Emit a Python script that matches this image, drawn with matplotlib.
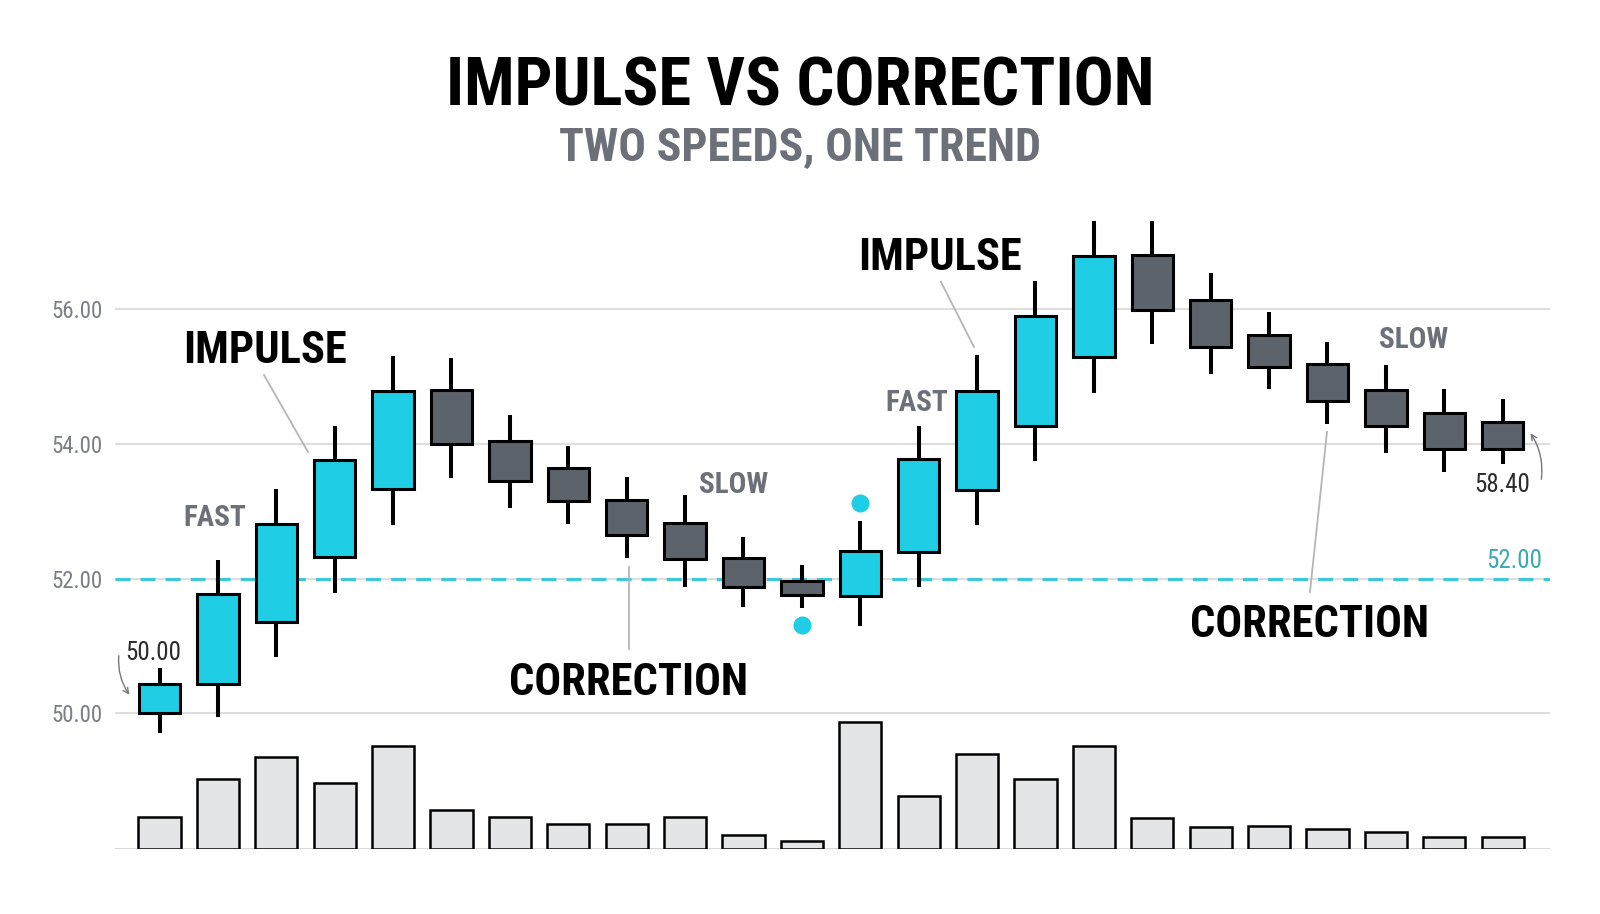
import matplotlib
matplotlib.use("Agg")
import matplotlib.pyplot as plt

# candle values
opens = [50.00, 50.44, 51.36, 52.32, 53.33, 54.80, 54.04, 53.64, 53.17, 52.82, 52.30, 51.97,
         51.74, 52.39, 53.31, 54.27, 55.29, 56.80, 56.13, 55.62, 55.18, 54.80, 54.46, 54.32]
closes = [50.44, 51.77, 52.81, 53.76, 54.79, 54.00, 53.45, 53.15, 52.65, 52.29, 51.88, 51.75,
          52.41, 53.77, 54.79, 55.89, 56.79, 55.99, 55.44, 55.14, 54.63, 54.27, 53.93, 53.93]
highs = [50.68, 52.28, 53.33, 54.27, 55.30, 55.28, 54.43, 53.96, 53.50, 53.24, 52.61, 52.20,
         52.85, 54.27, 55.32, 56.41, 57.31, 57.30, 56.53, 55.96, 55.51, 55.17, 54.82, 54.67]
lows = [49.71, 49.94, 50.83, 51.79, 52.80, 53.49, 53.05, 52.81, 52.31, 51.87, 51.58, 51.57,
        51.30, 51.88, 52.79, 53.74, 54.76, 55.48, 55.03, 54.81, 54.30, 53.87, 53.58, 53.70]
volumes = [32, 70, 92, 66, 103, 39, 32, 25, 25, 32, 14, 8,
           127, 53, 95, 70, 103, 31, 22, 23, 20, 17, 12, 12]

yticks = [50, 52, 54, 56]
ytick_labels = ["50.00", "52.00", "54.00", "56.00"]
level = 52.0
dot_x = [12, 11]
dot_y = [53.12, 51.31]

CYAN = "#1fcde4"
DARK = "#5d636b"
GREY_TXT = "#6b7079"
FONT = ["Roboto Condensed", "Roboto", "DejaVu Sans"]

fig = plt.figure(figsize=(16, 9.14), dpi=100)
fig.patch.set_facecolor("white")

xlim = (-0.762, 23.81)
ax = fig.add_axes([0.071875, 0.1849, 0.896875, 0.6291])
ax.set_xlim(*xlim)
ax.set_ylim(49.531, 58.062)
ax.patch.set_alpha(0)
for s in ax.spines.values():
    s.set_visible(False)
ax.set_xticks([])
ax.set_yticks(yticks)
ax.set_yticklabels(ytick_labels, fontsize=16.5, color="#7a7f86", family=FONT)
ax.tick_params(axis="y", length=0, pad=9)

for y in yticks:
    ax.axhline(y, color="#dedede", lw=1.5, zorder=0)
ax.axhline(level, color="#3cc8d8", lw=2.2, dashes=(4.9, 3.3), zorder=1)

x = list(range(len(opens)))
colors = [CYAN if c >= o else DARK for o, c in zip(opens, closes)]
bottoms = [min(o, c) for o, c in zip(opens, closes)]
heights = [abs(c - o) for o, c in zip(opens, closes)]
ax.vlines(x, lows, highs, color="black", lw=2.9, zorder=2)
ax.bar(x, heights, bottom=bottoms, width=0.71, color=colors, edgecolor="black",
       linewidth=2.2, zorder=3)
ax.plot(dot_x, dot_y, "o", color=CYAN, ms=13, mec="none", zorder=4)

big = dict(family=FONT, weight="bold", fontsize=32, color="black", ha="center", va="baseline")
small = dict(family=FONT, weight="bold", fontsize=21, color=GREY_TXT, ha="center", va="baseline")
lead = dict(color="#b5b5b5", lw=1.3, zorder=1)

ax.text(1.807, 55.199, "IMPULSE", **big)
ax.plot([1.789, 2.543], [55.021, 53.878], **lead)
ax.text(0.950, 52.780, "FAST", **small)

ax.text(8.039, 50.273, "CORRECTION", **big)
ax.plot([8.039, 8.039], [52.172, 50.955], **lead)
ax.text(9.837, 53.270, "SLOW", **small)

ax.text(13.365, 56.579, "IMPULSE", **big)
ax.plot([13.382, 13.947], [56.401, 55.436], **lead)
ax.text(12.971, 54.487, "FAST", **small)

ax.text(19.700, 51.134, "CORRECTION", **big)
ax.plot([19.991, 19.700], [54.175, 51.801], **lead)
ax.text(21.473, 55.421, "SLOW", **small)

ax.text(-0.103, 50.792, "50.00", family=FONT, fontsize=18, color="#2b2b2b",
        ha="center", va="baseline")
ax.annotate("", xy=(-0.488, 50.243), xytext=(-0.693, 50.896),
            arrowprops=dict(arrowstyle="->", color="#777777", lw=1.0,
                            connectionstyle="arc3,rad=0.2"))
ax.text(22.997, 53.285, "58.40", family=FONT, fontsize=18, color="#2b2b2b",
        ha="center", va="baseline")
ax.annotate("", xy=(23.45, 54.19), xytext=(23.656, 53.433),
            arrowprops=dict(arrowstyle="->", color="#777777", lw=1.0,
                            connectionstyle="arc3,rad=0.2"))
ax.text(23.673, 52.157, "52.00", family=FONT, fontsize=18, color="#3aa9b4",
        ha="right", va="baseline")

# volume panel
vax = fig.add_axes([0.071875, 0.07112, 0.896875, 0.16302])
vax.set_xlim(*xlim)
vax.set_ylim(0, 149)
vax.patch.set_alpha(0)
vax.axis("off")
vax.bar(x, volumes, width=0.72, color="#e4e5e7", edgecolor="black", linewidth=1.8, zorder=2)
vax.axhline(0, color="#d5d5d5", lw=2, zorder=1)

fig.text(0.5, 1 - 106 / 914, "IMPULSE VS CORRECTION", family=FONT, weight="bold",
         fontsize=48, ha="center", va="baseline", color="black")
fig.text(0.5, 1 - 160 / 914, "TWO SPEEDS, ONE TREND", family=FONT, weight="bold",
         fontsize=33, ha="center", va="baseline", color=GREY_TXT)

fig.savefig("out.png", dpi=100)
